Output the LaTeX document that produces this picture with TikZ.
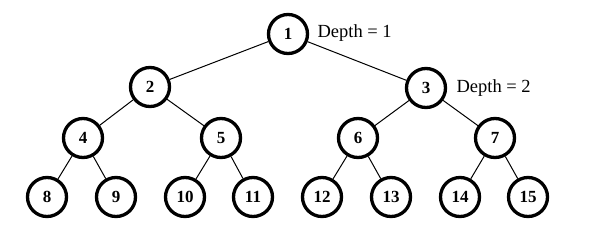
\documentclass[tikz,border=0pt]{standalone}
\usepackage{fontspec}
\setmainfont{Liberation Serif}
\begin{document}
\begin{tikzpicture}[x=1pt,y=-1pt,
  vertex/.style={circle,draw,line width=3.3pt,minimum size=39pt,inner sep=0pt,
    font=\fontsize{17}{17}\selectfont\bfseries},
  depth/.style={anchor=west,font=\fontsize{18.5}{18.5}\selectfont}]
\useasboundingbox (0,0) rectangle (591,228);

\node[vertex] (n1) at (288,34) {1};
\node[vertex] (n2) at (150,87) {2};
\node[vertex] (n3) at (426,88) {3};

\node[vertex] (n4) at (83,138) {4};
\node[vertex] (n5) at (221,138) {5};
\node[vertex] (n6) at (358,138) {6};
\node[vertex] (n7) at (495,138) {7};

\node[vertex] (n8) at (47,197) {8};
\node[vertex] (n9) at (116,197) {9};
\node[vertex] (n10) at (185,197) {10};
\node[vertex] (n11) at (253,197) {11};
\node[vertex] (n12) at (322,197) {12};
\node[vertex] (n13) at (391,197) {13};
\node[vertex] (n14) at (460,197) {14};
\node[vertex] (n15) at (528,197) {15};

\node[depth] (d1) at (314,33) {Depth = 1};
\node[depth] (d2) at (453,88) {Depth = 2};

\draw[line width=1pt] (n1)--(n2);
\draw[line width=1pt] (n1)--(n3);
\draw[line width=1pt] (n2)--(n4);
\draw[line width=1pt] (n2)--(n5);
\draw[line width=1pt] (n3)--(n6);
\draw[line width=1pt] (n3)--(n7);
\draw[line width=1pt] (n4)--(n8);
\draw[line width=1pt] (n4)--(n9);
\draw[line width=1pt] (n5)--(n10);
\draw[line width=1pt] (n5)--(n11);
\draw[line width=1pt] (n6)--(n12);
\draw[line width=1pt] (n6)--(n13);
\draw[line width=1pt] (n7)--(n14);
\draw[line width=1pt] (n7)--(n15);
\end{tikzpicture}
\end{document}
